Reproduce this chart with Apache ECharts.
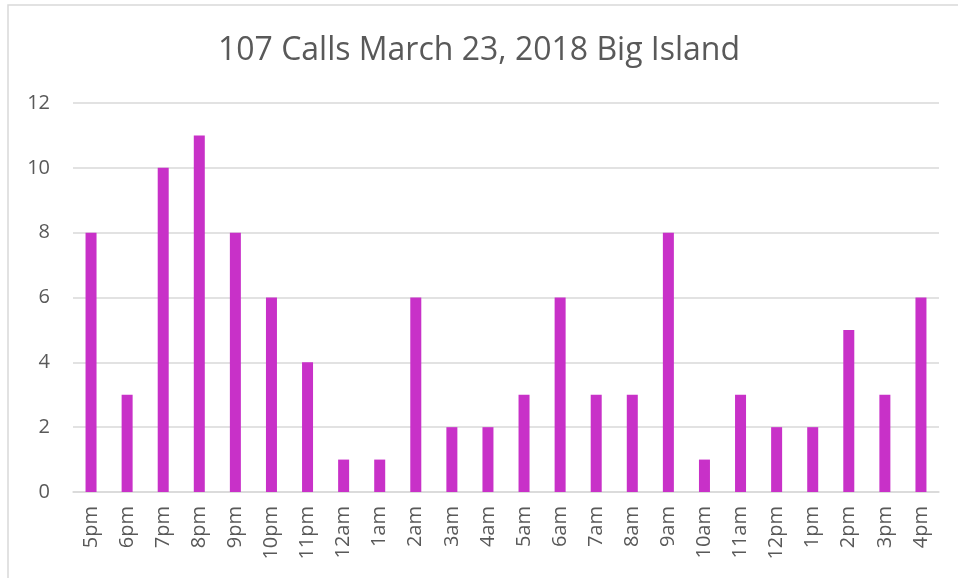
<!DOCTYPE html>
<html>
<head>
    <meta charset="utf-8" />
    <title>107 Calls</title>
    <script src="https://cdn.jsdelivr.net/npm/echarts@6/dist/echarts.min.js"></script>
</head>
<body style="margin:0;padding:0;background:#fff">
    <div id="main" style="width:958px;height:578px;margin:0;padding:0"></div>
    <script type="text/javascript">
        var hours = ['5pm', '6pm', '7pm', '8pm', '9pm', '10pm', '11pm', '12am', '1am', '2am', '3am', '4am',
            '5am', '6am', '7am', '8am', '9am', '10am', '11am', '12pm', '1pm', '2pm', '3pm', '4pm'];
        var calls = [8, 3, 10, 11, 8, 6, 4, 1, 1, 6, 2, 2, 3, 6, 3, 3, 8, 1, 3, 2, 2, 5, 3, 6];
        var titleText = '107 Calls March 23, 2018 Big Island';

        var myChart = echarts.init(document.getElementById('main'));
        myChart.setOption({
            animation: false,
            color: ['#C831C8'],
            title: {
                text: titleText,
                left: 'center',
                top: 30,
                textStyle: { fontSize: 32, fontWeight: 'normal', color: '#595959', fontFamily: 'Open Sans' }
            },
            graphic: [{
                type: 'rect',
                shape: { x: 8, y: 5, width: 1000, height: 700 },
                style: { fill: 'none', stroke: '#d9d9d9', lineWidth: 1.5 },
                silent: true
            }],
            grid: { left: 73, right: 19, top: 103, bottom: 86 },
            xAxis: {
                type: 'category',
                data: hours,
                axisTick: { show: false },
                axisLine: { lineStyle: { color: '#d9d9d9', width: 1.5 } },
                axisLabel: { rotate: 90, color: '#595959', fontSize: 20, fontFamily: 'Open Sans', margin: 14 }
            },
            yAxis: {
                type: 'value',
                min: 0,
                max: 12,
                interval: 2,
                axisLabel: { color: '#595959', fontSize: 20, fontFamily: 'Open Sans', margin: 23, align: 'right' },
                splitLine: { lineStyle: { color: '#d9d9d9', width: 1.5 } }
            },
            series: [{
                type: 'bar',
                data: calls,
                barWidth: 11
            }]
        });
    </script>
</body>
</html>
